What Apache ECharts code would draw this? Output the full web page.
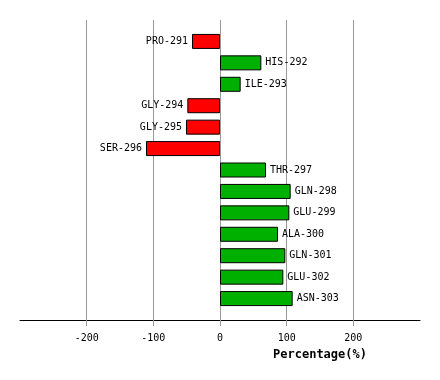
<!DOCTYPE html>
<html><head><meta charset="utf-8">
<script src="https://cdn.jsdelivr.net/npm/echarts@6/dist/echarts.min.js"></script>
<style>html,body{margin:0;padding:0;background:#fff}#c{width:440px;height:380px}</style>
</head><body><div id="c"></div>
<script>
const categories = ['PRO-291','HIS-292','ILE-293','GLY-294','GLY-295','SER-296','THR-297','GLN-298','GLU-299','ALA-300','GLN-301','GLU-302','ASN-303'];
const values = [-42, 62, 31, -49, -51, -111, 69, 106, 104, 87, 98, 95, 109];
const xMin = -300, xMax = 300, xStep = 100;
const axisTitle = 'Percentage(%)';

const font = 'DejaVu Sans Mono';
const yData = [''].concat(categories, ['']);
const barData = [null].concat(values.map(v => ({
  value: v,
  itemStyle: { color: v < 0 ? '#ff0000' : '#00b000' },
  label: { position: v < 0 ? 'left' : 'right' }
})), [null]);

const chart = echarts.init(document.getElementById('c'), null, { renderer: 'canvas' });
chart.setOption({
  animation: false,
  backgroundColor: '#ffffff',
  grid: { left: 20, right: 20, top: 20, bottom: 60, containLabel: false },
  xAxis: {
    type: 'value', min: xMin, max: xMax, interval: xStep,
    axisLine: { show: true, onZero: false, lineStyle: { color: '#000', width: 1 } },
    axisTick: { show: true, length: 6, lineStyle: { color: '#999', width: 1 } },
    axisLabel: { show: true, showMinLabel: false, showMaxLabel: false, margin: 13, fontFamily: font, fontSize: 10, color: '#000' },
    splitLine: { show: true, showMinLine: false, showMaxLine: false, lineStyle: { color: '#999', width: 1 } }
  },
  yAxis: {
    type: 'category', data: yData, inverse: true, boundaryGap: false,
    axisLine: { show: false }, axisTick: { show: false }, axisLabel: { show: false }, splitLine: { show: false }
  },
  graphic: [{
    type: 'text', x: 320, y: 355,
    style: { text: axisTitle, textAlign: 'center', textVerticalAlign: 'middle', font: 'bold 12px "' + font + '"', fill: '#000' }
  }],
  series: [{
    type: 'bar', data: barData, barWidth: 15,
    itemStyle: { borderColor: '#000', borderWidth: 1 },
    label: { show: true, formatter: p => categories[p.dataIndex - 1], distance: 4, fontFamily: font, fontSize: 10, color: '#000' }
  }]
});
</script></body></html>
